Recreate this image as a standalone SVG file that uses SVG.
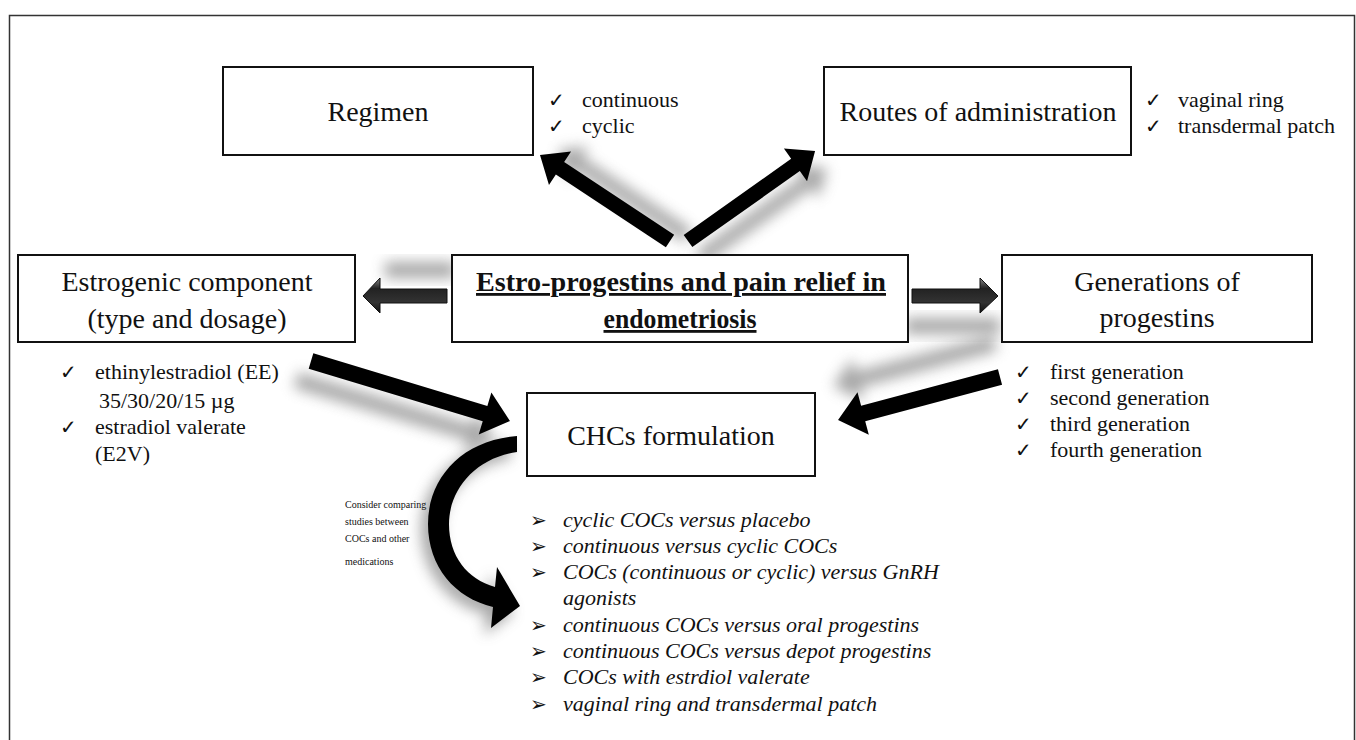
<svg xmlns="http://www.w3.org/2000/svg" width="1356" height="740" viewBox="0 0 1356 740">
<defs>
<style>
.box{fill:#fff;stroke:#111;stroke-width:2}
.lbl{font-family:"Liberation Serif","Times New Roman",serif;font-size:28px;fill:#111;text-anchor:middle}
.li{font-family:"Liberation Serif","Times New Roman",serif;font-size:22px;fill:#111}
.ck{font-family:"DejaVu Sans",sans-serif;font-size:20px;fill:#111}
.it{font-family:"Liberation Serif","Times New Roman",serif;font-size:22px;font-style:italic;fill:#111}
.sm{font-family:"Liberation Serif","Times New Roman",serif;font-size:10px;fill:#111}
.arr{fill:#000}
.sh{fill:#8a8a8a;opacity:0.75;filter:url(#blur)}
.blk{fill:url(#bg);stroke:#111;stroke-width:1}
</style>
<filter id="blur" x="-50%" y="-50%" width="200%" height="200%"><feGaussianBlur stdDeviation="7"/></filter>
<linearGradient id="bg" x1="0" y1="0" x2="0" y2="1">
<stop offset="0" stop-color="#888"/><stop offset="0.3" stop-color="#222"/><stop offset="0.7" stop-color="#333"/><stop offset="1" stop-color="#111"/>
</linearGradient>
</defs>
<rect x="0" y="0" width="1356" height="740" fill="#fff"/>
<rect x="9.5" y="15.5" width="1345" height="740" fill="none" stroke="#333" stroke-width="1.5"/>

<g id="connectors">
<polygon class="sh" transform="translate(688,236) rotate(-146.5)" points="0,-7.5 131.9,-7.5 131.9,-20 155.9,0 131.9,20 131.9,7.5 0,7.5"/>
<polygon class="sh" transform="translate(700,258) rotate(-35.3)" points="0,-7.5 131.7,-7.5 131.7,-20 155.7,0 131.7,20 131.7,7.5 0,7.5"/>
<polygon class="sh" transform="translate(296,380) rotate(16.8)" points="0,-8 181.8,-8 181.8,-22 207.8,0 181.8,22 181.8,8 0,8"/>
<polygon class="sh" transform="translate(995,343) rotate(165.1)" points="0,-8 141.6,-8 141.6,-22 167.6,0 141.6,22 141.6,8 0,8"/>
<rect class="sh" x="385" y="262" width="70" height="16"/>
<rect class="sh" x="905" y="318" width="95" height="16"/>
<path class="sh" transform="translate(-7,7)" d="M517,436 C462,440 428,478 428,522 C428,565 455,598 493,607 L491,628 L520,606 L497,567 L495,588 C465,580 448,555 448,522 C448,490 475,458 517,452 Z"/>
<polygon class="arr" transform="translate(670,241) rotate(-146.5)" points="0,-7.5 131.9,-7.5 131.9,-20 155.9,0 131.9,20 131.9,7.5 0,7.5"/>
<polygon class="arr" transform="translate(688,241) rotate(-35.3)" points="0,-7.5 131.7,-7.5 131.7,-20 155.7,0 131.7,20 131.7,7.5 0,7.5"/>
<polygon class="arr" transform="translate(311,361) rotate(16.8)" points="0,-8 181.8,-8 181.8,-22 207.8,0 181.8,22 181.8,8 0,8"/>
<polygon class="arr" transform="translate(1000,377) rotate(165.1)" points="0,-8 141.6,-8 141.6,-22 167.6,0 141.6,22 141.6,8 0,8"/>
<polygon class="blk" points="447,289 380,289 380,278 363,296 380,313 380,303 447,303"/>
<polygon class="blk" points="912,289 980,289 980,278 998,296 980,313 980,303 912,303"/>
<path class="arr" d="M517,436 C462,440 428,478 428,524 C428,567 455,598 493,607 L491,628 L520,606 L497,567 L495,587 C467,579 449,556 449,524 C449,490 475,458 517,452 Z"/>
</g>

<g id="regimen">
<rect class="box" x="223" y="67" width="310" height="88"/>
<text class="lbl" x="378" y="121">Regimen</text>
<text class="ck" x="548" y="107">✓</text><text class="li" x="582" y="107">continuous</text>
<text class="ck" x="548" y="133">✓</text><text class="li" x="582" y="133">cyclic</text>
</g>

<g id="routes">
<rect class="box" x="824" y="67" width="307" height="88"/>
<text class="lbl" x="978" y="121">Routes of administration</text>
<text class="ck" x="1145" y="107">✓</text><text class="li" x="1178" y="107">vaginal ring</text>
<text class="ck" x="1145" y="133">✓</text><text class="li" x="1178" y="133">transdermal patch</text>
</g>

<g id="estrogenic">
<rect class="box" x="18" y="255" width="337" height="87"/>
<text class="lbl" x="187" y="291">Estrogenic component</text>
<text class="lbl" x="187" y="328">(type and dosage)</text>
<text class="ck" x="60" y="379">✓</text><text class="li" x="95" y="379">ethinylestradiol (EE)</text>
<text class="li" x="99" y="408">35/30/20/15 µg</text>
<text class="ck" x="60" y="434">✓</text><text class="li" x="95" y="434">estradiol valerate</text>
<text class="li" x="95" y="461">(E2V)</text>
</g>

<g id="center">
<rect class="box" x="452" y="255" width="456" height="87"/>
<text class="lbl" x="681" y="291" font-weight="bold" font-size="27" text-decoration="underline" textLength="410" lengthAdjust="spacingAndGlyphs">Estro-progestins and pain relief in</text>
<text class="lbl" x="680" y="328" font-weight="bold" font-size="27" text-decoration="underline" textLength="153" lengthAdjust="spacingAndGlyphs">endometriosis</text>
</g>

<g id="generations">
<rect class="box" x="1002" y="255" width="310" height="87"/>
<text class="lbl" x="1157" y="291">Generations of</text>
<text class="lbl" x="1157" y="327">progestins</text>
<text class="ck" x="1015" y="379">✓</text><text class="li" x="1050" y="379">first generation</text>
<text class="ck" x="1015" y="405">✓</text><text class="li" x="1050" y="405">second generation</text>
<text class="ck" x="1015" y="431">✓</text><text class="li" x="1050" y="431">third generation</text>
<text class="ck" x="1015" y="457">✓</text><text class="li" x="1050" y="457">fourth generation</text>
</g>

<g id="chcs">
<rect class="box" x="527" y="393" width="288" height="83"/>
<text class="lbl" x="671" y="445" font-size="31">CHCs formulation</text>
</g>

<g id="note">
<text class="sm" x="345" y="508">Consider comparing</text>
<text class="sm" x="345" y="525">studies between</text>
<text class="sm" x="345" y="542">COCs and other</text>
<text class="sm" x="345" y="565">medications</text>
</g>

<g id="comparisons">
<text class="ck" x="530" y="527">➢</text><text class="it" x="563" y="527">cyclic COCs versus placebo</text>
<text class="ck" x="530" y="553">➢</text><text class="it" x="563" y="553">continuous versus cyclic COCs</text>
<text class="ck" x="530" y="579">➢</text><text class="it" x="563" y="579">COCs (continuous or cyclic) versus GnRH</text>
<text class="it" x="563" y="605">agonists</text>
<text class="ck" x="530" y="632">➢</text><text class="it" x="563" y="632">continuous COCs versus oral progestins</text>
<text class="ck" x="530" y="658">➢</text><text class="it" x="563" y="658">continuous COCs versus depot progestins</text>
<text class="ck" x="530" y="684">➢</text><text class="it" x="563" y="684">COCs with estrdiol valerate</text>
<text class="ck" x="530" y="711">➢</text><text class="it" x="563" y="711">vaginal ring and transdermal patch</text>
</g>
</svg>
